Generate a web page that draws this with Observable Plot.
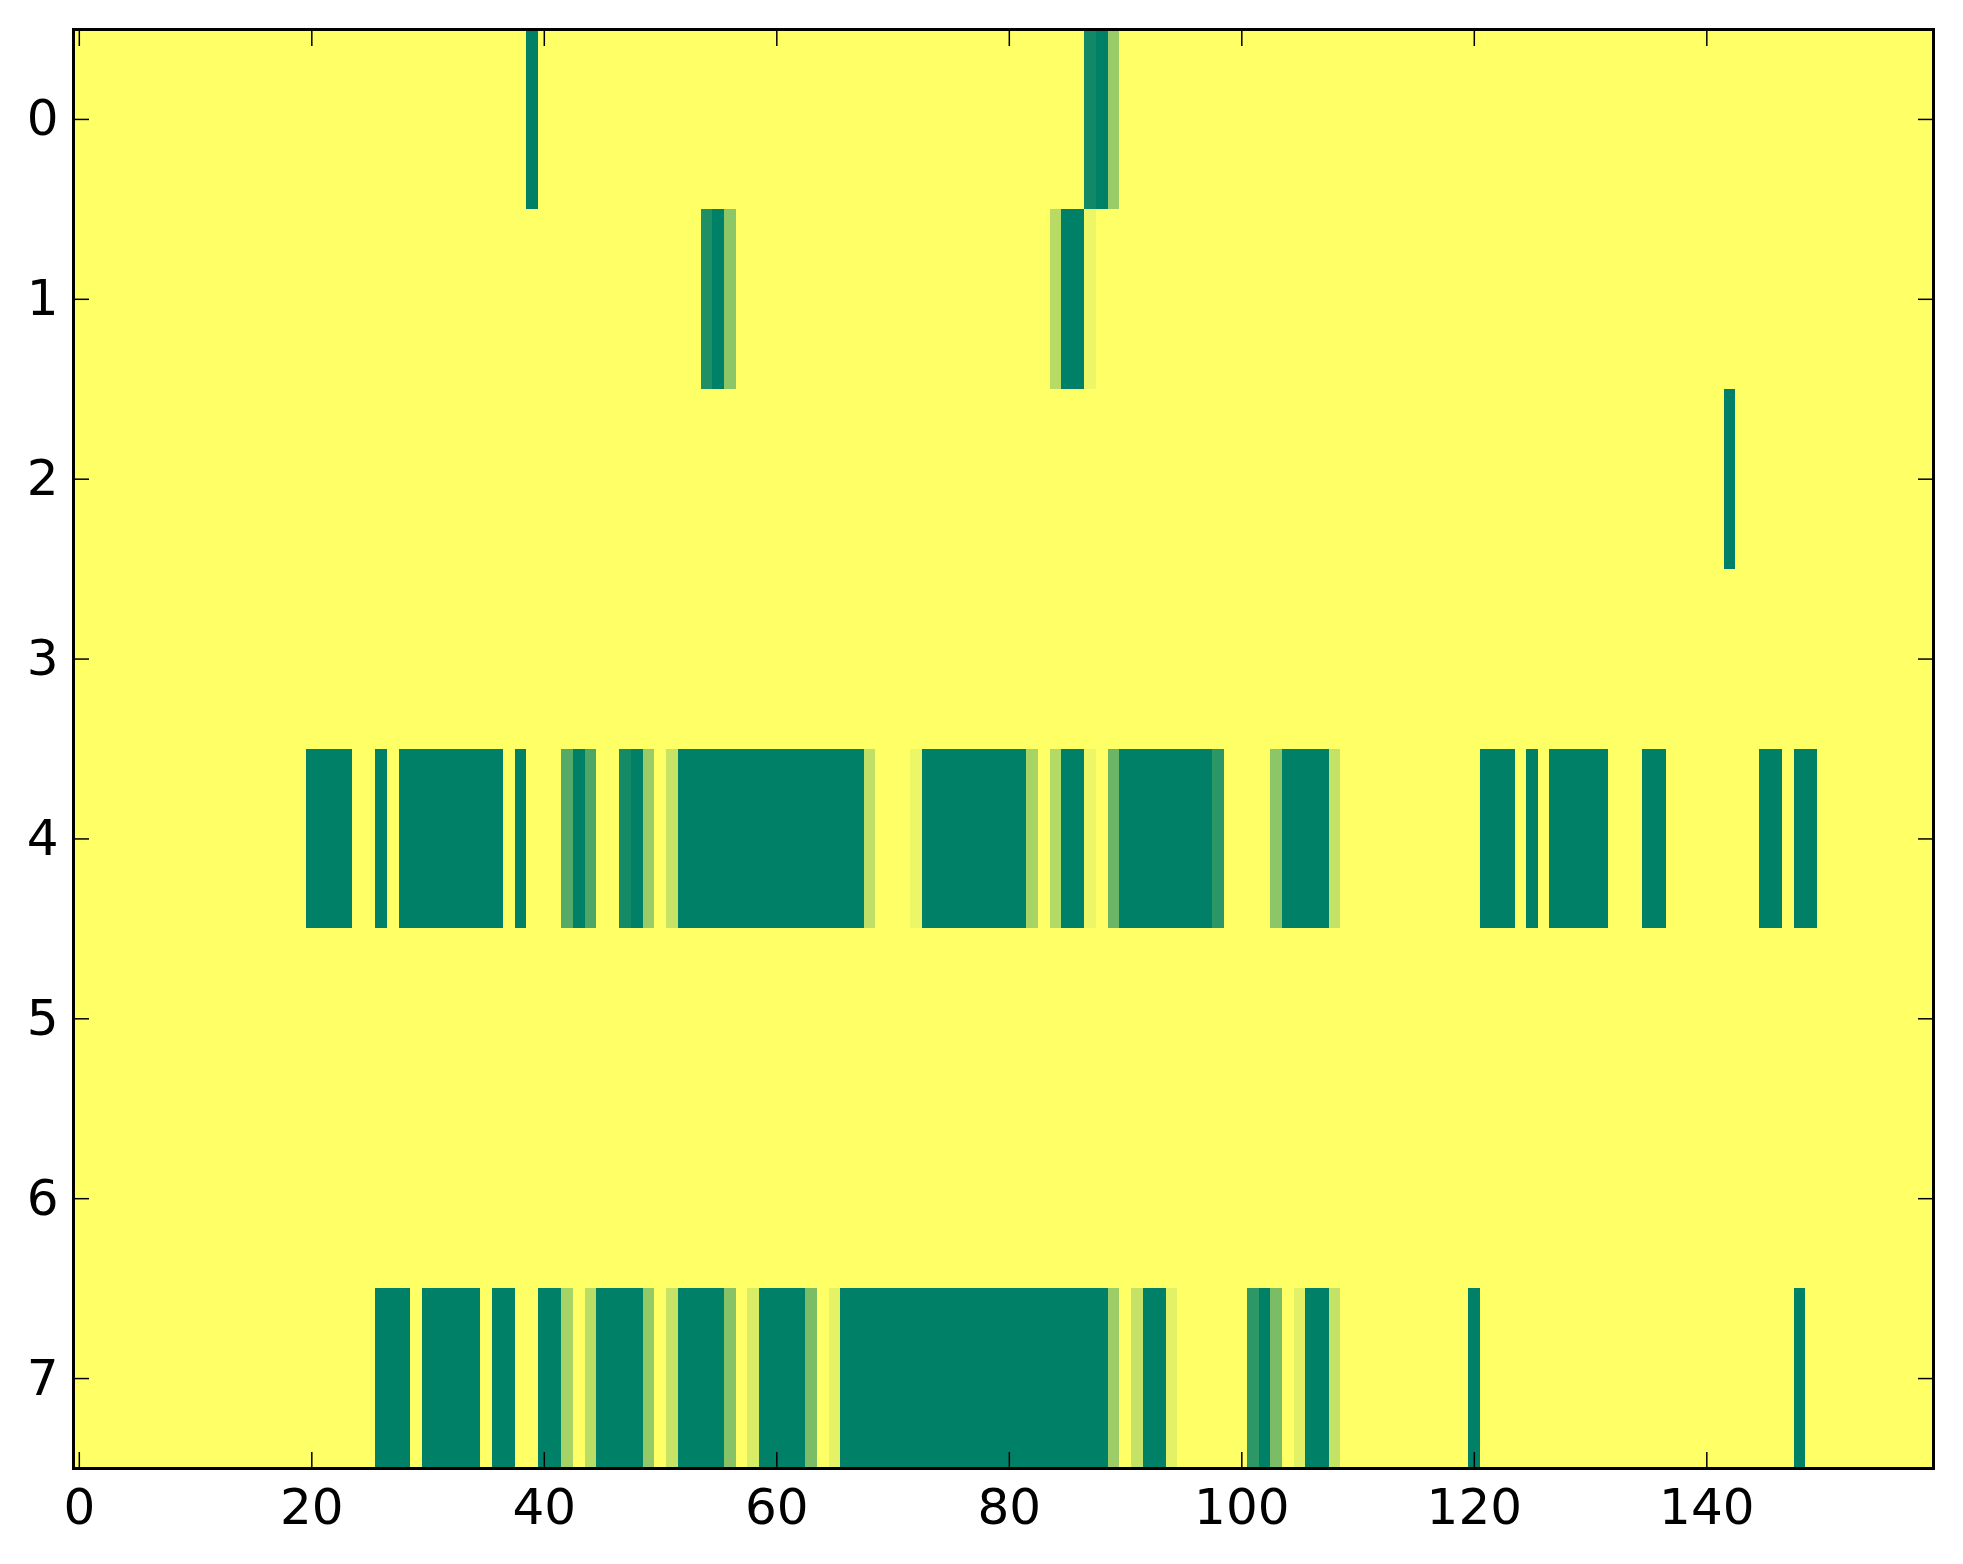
<!DOCTYPE html>
<html>
<head>
<meta charset="utf-8">
<script src="https://cdn.jsdelivr.net/npm/d3@7"></script>
<script src="https://cdn.jsdelivr.net/npm/@observablehq/plot@0.6"></script>
<style>
  html, body { margin: 0; padding: 0; background: #fff; }
  #chart { width: 1963px; height: 1564px; }
</style>
</head>
<body>
<div id="chart"></div>
<script>
// x tick labels and y tick labels
const xTicks = [0, 20, 40, 60, 80, 100, 120, 140];
const yTicks = [0, 1, 2, 3, 4, 5, 6, 7];
const columns = d3.range(160);

// cell values per row (160 columns each), summer colormap: 0 = green, 1 = yellow
const row0 = [
  1,1,1,1,1,1,1,1,1,1, 1,1,1,1,1,1,1,1,1,1, 1,1,1,1,1,1,1,1,1,1, 1,1,1,1,1,1,1,1,1,0,
  1,1,1,1,1,1,1,1,1,1, 1,1,1,1,1,1,1,1,1,1, 1,1,1,1,1,1,1,1,1,1, 1,1,1,1,1,1,1,1,1,1,
  1,1,1,1,1,1,1,0.07,0,0.6, 1,1,1,1,1,1,1,1,1,1, 1,1,1,1,1,1,1,1,1,1, 1,1,1,1,1,1,1,1,1,1,
  1,1,1,1,1,1,1,1,1,1, 1,1,1,1,1,1,1,1,1,1, 1,1,1,1,1,1,1,1,1,1, 1,1,1,1,1,1,1,1,1,1
];
const row1 = [
  1,1,1,1,1,1,1,1,1,1, 1,1,1,1,1,1,1,1,1,1, 1,1,1,1,1,1,1,1,1,1, 1,1,1,1,1,1,1,1,1,1,
  1,1,1,1,1,1,1,1,1,1, 1,1,1,1,0.12,0,0.55,1,1,1, 1,1,1,1,1,1,1,1,1,1, 1,1,1,1,1,1,1,1,1,1,
  1,1,1,1,0.72,0,0,0.93,1,1, 1,1,1,1,1,1,1,1,1,1, 1,1,1,1,1,1,1,1,1,1, 1,1,1,1,1,1,1,1,1,1,
  1,1,1,1,1,1,1,1,1,1, 1,1,1,1,1,1,1,1,1,1, 1,1,1,1,1,1,1,1,1,1, 1,1,1,1,1,1,1,1,1,1
];
const row2 = [
  1,1,1,1,1,1,1,1,1,1, 1,1,1,1,1,1,1,1,1,1, 1,1,1,1,1,1,1,1,1,1, 1,1,1,1,1,1,1,1,1,1,
  1,1,1,1,1,1,1,1,1,1, 1,1,1,1,1,1,1,1,1,1, 1,1,1,1,1,1,1,1,1,1, 1,1,1,1,1,1,1,1,1,1,
  1,1,1,1,1,1,1,1,1,1, 1,1,1,1,1,1,1,1,1,1, 1,1,1,1,1,1,1,1,1,1, 1,1,1,1,1,1,1,1,1,1,
  1,1,1,1,1,1,1,1,1,1, 1,1,1,1,1,1,1,1,1,1, 1,1,1,1,1,1,1,1,1,1, 1,1,1,1,1,1,1,1,1,1
];
row2[142] = 0;
const row3 = [
  1,1,1,1,1,1,1,1,1,1, 1,1,1,1,1,1,1,1,1,1, 1,1,1,1,1,1,1,1,1,1, 1,1,1,1,1,1,1,1,1,1,
  1,1,1,1,1,1,1,1,1,1, 1,1,1,1,1,1,1,1,1,1, 1,1,1,1,1,1,1,1,1,1, 1,1,1,1,1,1,1,1,1,1,
  1,1,1,1,1,1,1,1,1,1, 1,1,1,1,1,1,1,1,1,1, 1,1,1,1,1,1,1,1,1,1, 1,1,1,1,1,1,1,1,1,1,
  1,1,1,1,1,1,1,1,1,1, 1,1,1,1,1,1,1,1,1,1, 1,1,1,1,1,1,1,1,1,1, 1,1,1,1,1,1,1,1,1,1
];
const row4 = [
  1,1,1,1,1,1,1,1,1,1, 1,1,1,1,1,1,1,1,1,1, 0,0,0,0,1,1,0,1,0,0, 0,0,0,0,0,0,0,1,0,1,
  1,1,0.33,0,0.3,1,1,0.08,0,0.6, 1,0.78,0,0,0,0,0,0,0,0, 0,0,0,0,0,0,0,0,0.75,1, 1,1,0.93,0,0,0,0,0,0,0,
  0,0,0.66,1,0.7,0,0,0.93,1,0.42, 0,0,0,0,0,0,0,0,0.17,1, 1,1,1,0.55,0,0,0,0,0.77,1, 1,1,1,1,1,1,1,1,1,1,
  1,0,0,0,1,0,1,0,0,0, 0,0,1,1,1,0,0,1,1,1, 1,1,1,1,1,0,0,1,0,0, 1,1,1,1,1,1,1,1,1,1
];
const row5 = [
  1,1,1,1,1,1,1,1,1,1, 1,1,1,1,1,1,1,1,1,1, 1,1,1,1,1,1,1,1,1,1, 1,1,1,1,1,1,1,1,1,1,
  1,1,1,1,1,1,1,1,1,1, 1,1,1,1,1,1,1,1,1,1, 1,1,1,1,1,1,1,1,1,1, 1,1,1,1,1,1,1,1,1,1,
  1,1,1,1,1,1,1,1,1,1, 1,1,1,1,1,1,1,1,1,1, 1,1,1,1,1,1,1,1,1,1, 1,1,1,1,1,1,1,1,1,1,
  1,1,1,1,1,1,1,1,1,1, 1,1,1,1,1,1,1,1,1,1, 1,1,1,1,1,1,1,1,1,1, 1,1,1,1,1,1,1,1,1,1
];
const row6 = [
  1,1,1,1,1,1,1,1,1,1, 1,1,1,1,1,1,1,1,1,1, 1,1,1,1,1,1,1,1,1,1, 1,1,1,1,1,1,1,1,1,1,
  1,1,1,1,1,1,1,1,1,1, 1,1,1,1,1,1,1,1,1,1, 1,1,1,1,1,1,1,1,1,1, 1,1,1,1,1,1,1,1,1,1,
  1,1,1,1,1,1,1,1,1,1, 1,1,1,1,1,1,1,1,1,1, 1,1,1,1,1,1,1,1,1,1, 1,1,1,1,1,1,1,1,1,1,
  1,1,1,1,1,1,1,1,1,1, 1,1,1,1,1,1,1,1,1,1, 1,1,1,1,1,1,1,1,1,1, 1,1,1,1,1,1,1,1,1,1
];
const row7 = [
  1,1,1,1,1,1,1,1,1,1, 1,1,1,1,1,1,1,1,1,1, 1,1,1,1,1,1,0,0,0,1, 0,0,0,0,0,1,0,0,1,1,
  0,0,0.65,1,0.73,0,0,0,0,0.58, 1,0.78,0,0,0,0,0.53,1,0.85,0, 0,0,0,0.48,1,0.9,0,0,0,0, 0,0,0,0,0,0,0,0,0,0,
  0,0,0,0,0,0,0,0,0,0.61, 1,0.77,0,0,0.89,1,1,1,1,1, 1,0.18,0,0.48,1,0.89,0,0,0.77,1, 1,1,1,1,1,1,1,1,1,1,
  0,1,1,1,1,1,1,1,1,1, 1,1,1,1,1,1,1,1,1,1, 1,1,1,1,1,1,1,1,0,1, 1,1,1,1,1,1,1,1,1,1
];

const rows = [row0, row1, row2, row3, row4, row5, row6, row7];
const cells = rows.flatMap((r, y) => r.map((v, x) => ({x, y, v})));

const chart = Plot.plot({
  width: 1963,
  height: 1564,
  marginLeft: 73,
  marginRight: 30,
  marginTop: 29,
  marginBottom: 96,
  style: {fontFamily: "DejaVu Sans", fontSize: "50px", color: "black", background: "white"},
  x: {type: "band", domain: columns, padding: 0, round: false},
  y: {type: "band", domain: yTicks, padding: 0, round: false},
  color: {type: "linear", domain: [0, 1], range: ["#008066", "#ffff66"], interpolate: "rgb"},
  marks: [
    Plot.cell(cells, {x: "x", y: "y", fill: "v", inset: 0, shapeRendering: "crispEdges"}),
    Plot.axisX(xTicks, {anchor: "bottom", tickSize: -16, tickPadding: 36, strokeWidth: 1.5, label: null, fill: "black"}),
    Plot.axisX(xTicks, {anchor: "top", tickSize: -16, tickFormat: () => "", strokeWidth: 1.5, label: null}),
    Plot.axisY(yTicks, {anchor: "left", tickSize: -16, tickPadding: 31, strokeWidth: 1.5, label: null, fill: "black"}),
    Plot.axisY(yTicks, {anchor: "right", tickSize: -16, tickFormat: () => "", strokeWidth: 1.5, label: null}),
    Plot.frame({stroke: "black", strokeWidth: 3})
  ]
});
document.getElementById("chart").appendChild(chart);
</script>
</body>
</html>
